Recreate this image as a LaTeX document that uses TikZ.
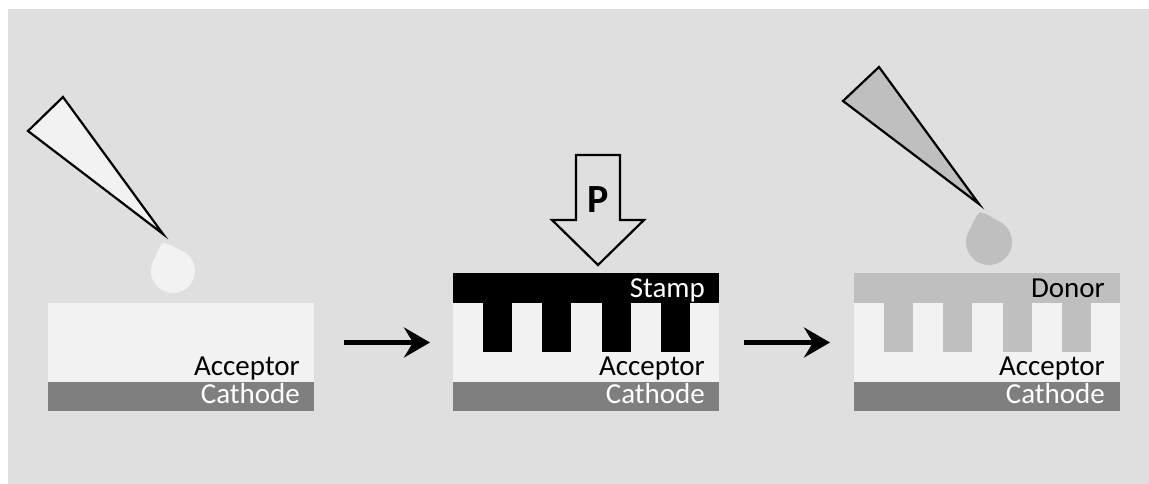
\documentclass[tikz,border=0pt]{standalone}
\usepackage{fontspec}
\setmainfont{Carlito}
\usetikzlibrary{arrows.meta}

\definecolor{panelbg}{RGB}{223,223,223}
\definecolor{accfill}{RGB}{242,242,242}
\definecolor{catfill}{RGB}{127,127,127}
\definecolor{donfill}{RGB}{191,191,191}

\tikzset{
  layer/.style={rectangle, inner sep=0pt, outer sep=0pt, minimum width=266pt},
  acceptor/.style={layer, fill=accfill, minimum height=79pt},
  cathode/.style={layer, fill=catfill, minimum height=29pt},
  topband/.style={layer, minimum height=30pt},
  lbl/.style={inner sep=0pt, anchor=base east, font=\fontsize{29}{31}\selectfont},
  pipette/.style={draw=black, line width=2.2pt},
  step arrow/.style={line width=4.5pt, -{Stealth[length=26pt,width=30pt,inset=9pt]}}
}

% tear drop: fill, centre x, centre y, radius, tilt
\newcommand{\droplet}[5]{%
  \fill[#1, shift={(#2,#3)}, y={(0pt,1pt)}, rotate=#5]
    (0,1.35*#4) to[out=-25,in=137.8] (47.8:#4)
    arc[start angle=47.8, end angle=-227.8, radius=#4]
    to[out=42.2,in=-155] cycle;}

\begin{document}
\begin{tikzpicture}[x=1pt,y=-1pt]
\useasboundingbox (0,0) rectangle (1149,484);
\fill[panelbg] (8,9) rectangle (1149,484);

%%% first stage: acceptor cast on the cathode
\draw[pipette, fill=accfill] (63,97) -- (28,131) -- (163,234) -- cycle;
\droplet{accfill}{173}{271}{22}{19.7}
\node[acceptor] (acc1) at (181,342.5) {};
\node[cathode] (cat1) at (181,396.5) {};
\node[lbl] (acctxt1) at (300,375) {Acceptor};
\node[lbl, text=white] (cattxt1) at (300,403) {Cathode};

%%% second stage: stamp pressed into the acceptor
\draw[line width=2.2pt] (576,155) -- (620,155) -- (620,220) -- (644,220)
  -- (598,265) -- (552,220) -- (576,220) -- cycle;
\node[inner sep=0pt, font=\bfseries\fontsize{40}{40}\selectfont] (press) at (598,200) {P};
\node[acceptor] (acc2) at (586,342.5) {};
\node[cathode] (cat2) at (586,396.5) {};
\node[topband, fill=black] (stamp) at (586,288) {};
\foreach \i in {0,...,3}
  \fill[black] (483+59.3*\i,303) rectangle ++(29,49);
\node[lbl, text=white] (stamptxt) at (705,297) {Stamp};
\node[lbl] (acctxt2) at (705,375) {Acceptor};
\node[lbl, text=white] (cattxt2) at (705,403) {Cathode};

%%% third stage: donor filled into the imprint
\draw[pipette, fill=donfill] (879,67) -- (843,101) -- (979,204) -- cycle;
\droplet{donfill}{989}{242}{23}{17}
\node[acceptor] (acc3) at (987,342.5) {};
\node[cathode] (cat3) at (987,396.5) {};
\node[topband, fill=donfill] (donor) at (987,288) {};
\foreach \i in {0,...,3}
  \fill[donfill] (884+59.3*\i,303) rectangle ++(29,49);
\node[lbl] (dontxt) at (1105,297) {Donor};
\node[lbl] (acctxt3) at (1105,375) {Acceptor};
\node[lbl, text=white] (cattxt3) at (1105,403) {Cathode};

%%% process arrows
\draw[step arrow, shorten <=30pt, shorten >=23pt] (acc1.east) -- (acc2.west);
\draw[step arrow, shorten <=25pt, shorten >=24pt] (acc2.east) -- (acc3.west);
\end{tikzpicture}
\end{document}
